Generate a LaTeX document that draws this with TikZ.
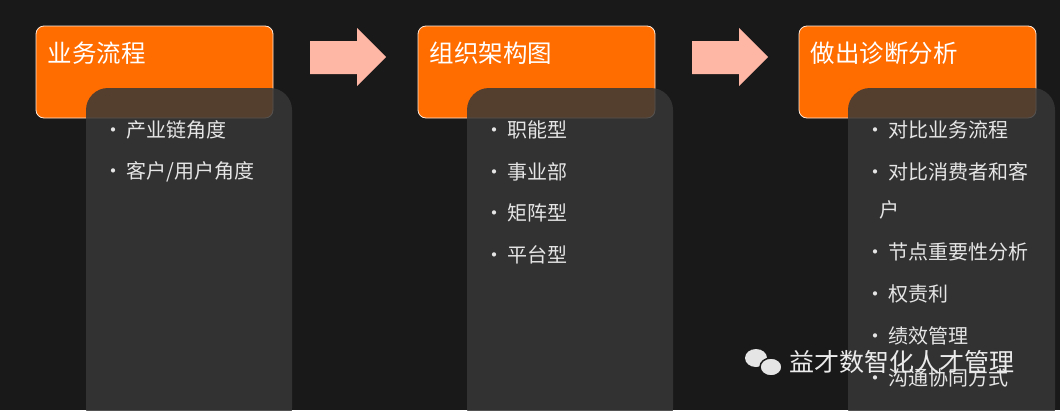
\documentclass[tikz,border=0pt]{standalone}
\usepackage{fontspec}
\setmainfont{Noto Sans CJK SC}
\definecolor{bgc}{RGB}{25,25,25}
\definecolor{orng}{RGB}{255,108,0}
\definecolor{pnl}{RGB}{55,55,55}
\definecolor{arw}{RGB}{255,183,165}
\newcommand{\bul}{•\hspace{3pt}}
\begin{document}
\begin{tikzpicture}[x=1pt,y=-1pt,
  head/.style={draw=white!85!orng, line width=0.8pt, fill=orng, rounded corners=8pt},
  panel/.style={fill=pnl, opacity=0.85, rounded corners=22pt},
  ttl/.style={text=white, font=\fontsize{24.5}{28}\selectfont, anchor=west},
  itm/.style={text=white!90!black, font=\fontsize{20}{24}\selectfont, anchor=west}]

\fill[bgc] (0,0) rectangle (1060,410);
\useasboundingbox (0,0) rectangle (1060,410);

% heads
\path[head] (36,26) rectangle (273,118);
\path[head] (418,26) rectangle (655,118);
\path[head] (799,26) rectangle (1036,118);
\node (T1) [ttl] at (44,53) {业务流程};
\node (T2) [ttl] at (426,53) {组织架构图};
\node (T3) [ttl] at (807,53) {做出诊断分析};

% panels
\path[panel] (86,88) -- (86,430) -- (292,430) -- (292,88) -- cycle;
\path[panel] (467,88) -- (467,430) -- (673,430) -- (673,88) -- cycle;
\path[panel] (848,88) -- (848,430) -- (1055,430) -- (1055,88) -- cycle;

% arrows
\fill[arw] (310,41) -- (357,41) -- (357,28) -- (386,57) -- (357,86) -- (357,74) -- (310,74) -- cycle;
\fill[arw] (692,41) -- (739,41) -- (739,28) -- (768,57) -- (739,86) -- (739,74) -- (692,74) -- cycle;

% items
\node (A1) [itm] at (100,130) {\bul 产业链角度};
\node (A2) [itm] at (100,172) {\bul 客户/用户角度};

\node (B1) [itm] at (481,130) {\bul 职能型};
\node (B2) [itm] at (481,172) {\bul 事业部};
\node (B3) [itm] at (481,213) {\bul 矩阵型};
\node (B4) [itm] at (481,255) {\bul 平台型};

\node (C1) [itm] at (862,130) {\bul 对比业务流程};
\node (C2) [itm] at (862,172) {\bul 对比消费者和客};
\node (C2b) [itm] at (876,210) {户};
\node (C3) [itm] at (862,252) {\bul 节点重要性分析};
\node (C4) [itm] at (862,294) {\bul 权责利};
\node (C5) [itm] at (862,336) {\bul 绩效管理};
\node (C6) [itm] at (862,378) {\bul 沟通协同方式};

% watermark
\fill[white!90!black] (756,358) ellipse (11pt and 9pt);
\fill[white!90!black, draw=bgc, line width=1.5pt] (771,367) ellipse (11pt and 9pt);
\node (W) [text=white!92!black, font=\fontsize{25}{28}\selectfont, anchor=west] at (786,362) {益才数智化人才管理};
\end{tikzpicture}
\end{document}
